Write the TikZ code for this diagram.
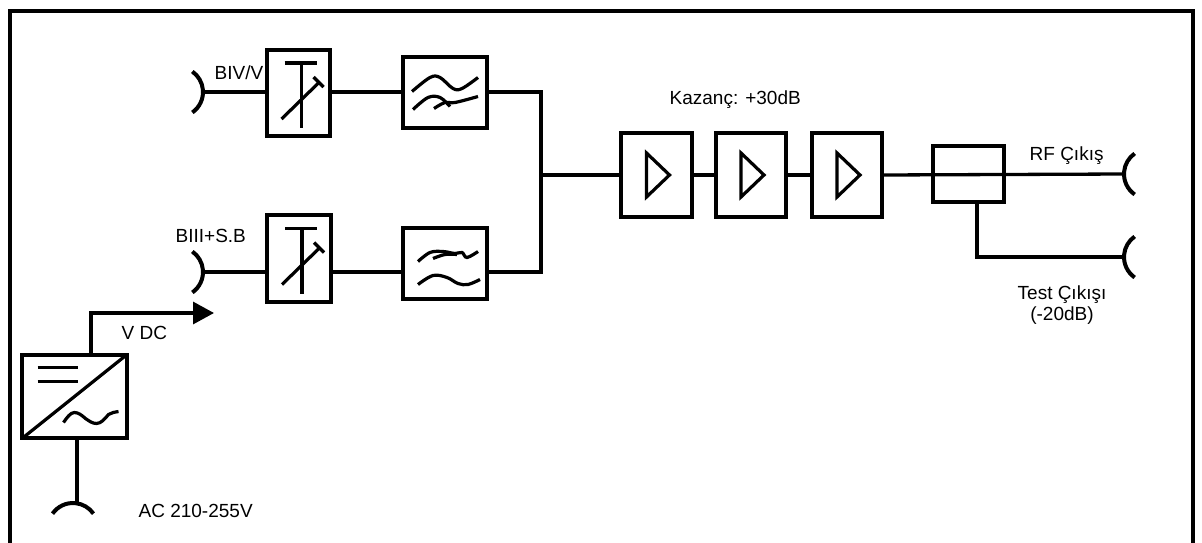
\documentclass[tikz,border=0pt]{standalone}
\usepackage{fontspec}
\setmainfont{Liberation Sans}
\usetikzlibrary{arrows.meta}
\begin{document}
\begin{tikzpicture}[x=1pt,y=-1pt,line width=3.3pt,
  blk/.style={draw,rectangle,inner sep=0pt,line width=3.3pt},
  sym/.style={line width=3.2pt},
  lbl/.style={inner sep=0pt,font=\fontsize{19}{21}\selectfont},
  conn/.style={line width=4pt}]
\useasboundingbox (0,0) rectangle (1202,543);
\fill[white] (0,0) rectangle (1202,543);
% frame
\draw[line width=4pt] (10,546) -- (10,11) -- (1193,11) -- (1193,546);

% blocks
\node[blk,minimum width=63pt,minimum height=86pt] (att1) at (298.5,93) {};
\node[blk,minimum width=84pt,minimum height=71pt] (f1) at (445,92.5) {};
\node[blk,minimum width=64pt,minimum height=87pt] (att2) at (299,258.5) {};
\node[blk,minimum width=84pt,minimum height=71pt] (f2) at (445,263.5) {};
\node[blk,minimum width=71pt,minimum height=84pt] (amp1) at (656.5,175) {};
\node[blk,minimum width=70pt,minimum height=84pt] (amp2) at (751,175) {};
\node[blk,minimum width=70pt,minimum height=84pt] (amp3) at (847,175) {};
\node[blk,minimum width=71pt,minimum height=56pt] (split) at (968.5,174) {};
\node[blk,minimum width=105pt,minimum height=83pt] (psu) at (74.5,396.5) {};

% connection points
\coordinate (in1) at (203,92);
\coordinate (in2) at (203,272);
\coordinate (j) at (541,175);
\coordinate (out1) at (1124,174);
\coordinate (out2) at (1124,257);
\coordinate (vdc) at (214,313);
\coordinate (ac) at (77,504);

% connectors (arcs)
\draw[conn] (in1) ++(-25,0) ++(55:25) arc (55:-55:25);
\draw[conn] (in2) ++(-25,0) ++(55:25) arc (55:-55:25);
\draw[conn] (out1) ++(25,0) ++(125:25) arc (125:235:25);
\draw[conn] (out2) ++(25,0) ++(125:25) arc (125:235:25);
\draw[conn] (ac) ++(-4,24) ++(-145:25) arc (-145:-35:25);

% signal lines
\draw (in1) -- (in1 -| att1.west);
\draw (in1 -| att1.east) -- (in1 -| f1.west);
\draw (in1 -| f1.east) -| (j);
\draw (in2) -- (in2 -| att2.west);
\draw (in2 -| att2.east) -- (in2 -| f2.west);
\draw (in2 -| f2.east) -| (j);
\draw (j) -- (j -| amp1.west);
\draw (amp1.east) -- (amp2.west);
\draw (amp2.east) -- (amp3.west);
\draw (amp3.east) -- (out1);
\draw ([xshift=8.5pt]split.south) |- (out2);
\draw[-{Triangle[width=22pt,length=21pt]}] ([xshift=16.5pt]psu.north) |- (vdc);
\draw ([xshift=2.5pt]psu.south) -- (ac);

% attenuator symbols
\foreach \n in {att1,att2}{
  \begin{scope}[shift={(\n.center)},sym]
    \draw (-14,-30) -- (18,-30);
    \draw (3,-30) -- (3,35);
    \draw (-17,26) -- (21,-11);
    \draw (15,-16) -- (25,-6);
  \end{scope}
}
% filter symbols
\begin{scope}[shift={(f1.center)},sym]
  \draw plot[smooth,tension=0.6] coordinates {(-33,-1) (-15,-15) (-5,-15) (8,-4) (17,-4) (33,-15)};
  \draw plot[smooth,tension=0.6] coordinates {(-32,17) (-17,5) (-5,5) (5,14)};
  \draw plot[smooth,tension=0.6] coordinates {(-11,16) (0,10) (10,10) (33,4)};
\end{scope}
\begin{scope}[shift={(f2.center)},sym]
  \draw plot[smooth,tension=0.6] coordinates {(-27,-2) (-15,-11) (-2,-12) (10,-10) (17,-11) (22,-6) (33,-12)};
  \draw plot[smooth,tension=0.6] coordinates {(-12,-5) (0,-9) (12,-9)};
  \draw plot[smooth,tension=0.6] coordinates {(-27,21) (-12,12) (2,14) (13,20) (23,21) (35,16)};
\end{scope}
% amplifier symbols
\foreach \n in {amp1,amp2,amp3}{
  \draw[sym,line join=miter] ([shift={(-10,-22)}]\n.center) -- ([shift={(13,0)}]\n.center) -- ([shift={(-10,22)}]\n.center) -- cycle;
}
% power supply symbols
\begin{scope}[shift={(psu.center)},sym]
  \draw (-50,40) -- (50,-40);
  \draw (-37,-29) -- (3,-29);
  \draw (-37,-15) -- (3,-15);
  \draw (-11,26) sin (0,16) cos (11,22) sin (22,27) cos (34,18) sin (44,15);
\end{scope}

% labels
\node[lbl,anchor=west] (lbiv) at (213,73) {BIV/V};
\node[lbl,anchor=west] (lbiii) at (174,236) {BIII+S.B};
\node[lbl,anchor=west] (lvdc) at (120,333) {V DC};
\node[lbl,anchor=west] (lac) at (137,511) {AC 210-255V};
\node[lbl,anchor=west] (lgain) at (668,100) {Kazanç: +30dB};
\node[lbl,anchor=west] (lrf) at (1028,156) {RF Çıkış};
\node[lbl,align=center] (ltest) at (1062,305) {Test Çıkışı\\(-20dB)};
\end{tikzpicture}
\end{document}
